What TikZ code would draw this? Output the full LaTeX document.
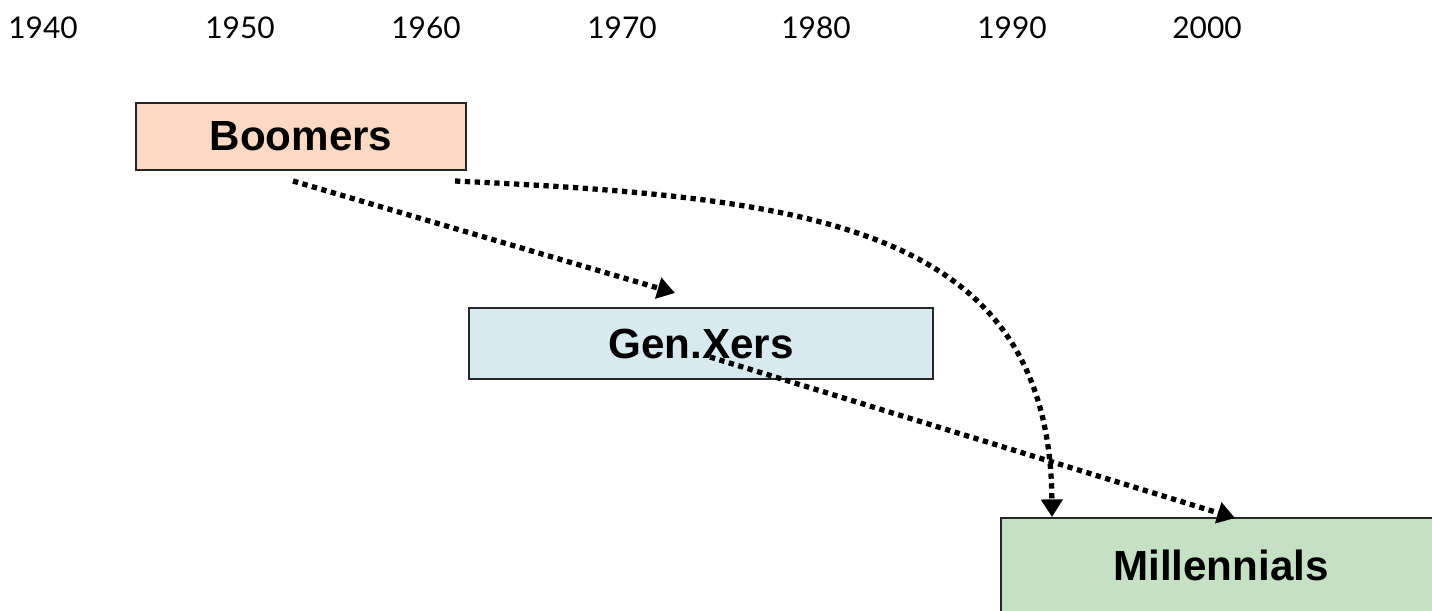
\documentclass[tikz,border=0pt]{standalone}
\usepackage{fontspec}
\setmainfont{Liberation Sans}
\newfontfamily\yearfont{Lato}
\usetikzlibrary{arrows.meta}

\definecolor{boomfill}{HTML}{FCD9C2}
\definecolor{genxfill}{HTML}{D6EAF0}
\definecolor{millfill}{HTML}{C4E1C4}

\tikzset{
    year/.style={font=\yearfont\fontsize{17}{20}\selectfont, inner sep=0pt},
    genbox/.style={draw=black!85, line width=1.1pt, font=\bfseries\fontsize{24}{28}\selectfont, inner sep=0pt},
    flow/.style={line width=3pt, dash pattern=on 3pt off 2.6pt, -{Triangle[width=12pt,length=10pt]}}
}

\begin{document}
\begin{tikzpicture}
                \useasboundingbox (0,0) rectangle (28.64,-12.2);
                \clip (0,0) rectangle (28.64,-12.2);

                \foreach \yr/\x in {1940/0.86,1950/4.8,1960/8.52,1970/12.44,1980/16.32,1990/20.24,2000/24.14}
                    \node[year] (y\yr) at (\x,-0.56) {\yr};

                \node[genbox, fill=boomfill, minimum width=6.6cm, minimum height=1.34cm] (boomers) at (6.02,-2.73) {Boomers};
                \node[genbox, fill=genxfill, minimum width=9.28cm, minimum height=1.42cm] (genx) at (14.02,-6.87) {Gen.Xers};
                \node[genbox, fill=millfill, minimum width=8.8cm, minimum height=2cm] (millennials) at (24.42,-11.36) {};
                \node[font=\bfseries\fontsize{24}{28}\selectfont] (milltext) at (24.42,-11.3) {Millennials};

                \coordinate (b1) at (5.86,-3.62);
                \coordinate (b2) at (9.1,-3.62);
                \coordinate (g1) at (14.2,-7.14);
                \coordinate (xtip) at (13.5,-5.86);
                \coordinate (m1) at (21.04,-10.34);
                \coordinate (m2) at (24.7,-10.36);

                \draw[flow] (b1) -- (xtip);
                \draw[flow] (b2) .. controls (16.2,-3.95) and (21.0,-4.5) .. (m1);
                \draw[flow] (g1) -- (m2);
            \end{tikzpicture}
\end{document}
